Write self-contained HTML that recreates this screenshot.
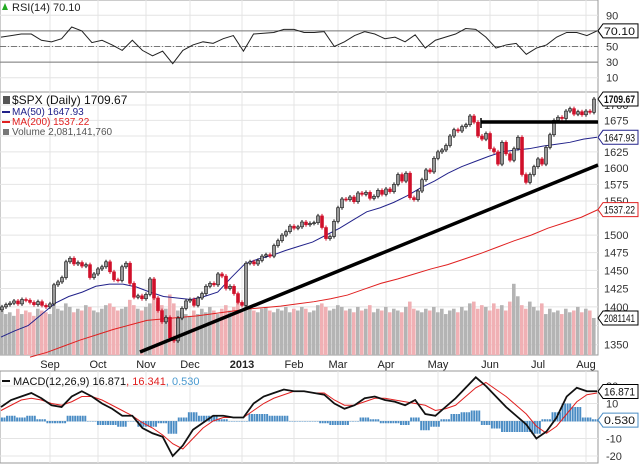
<!DOCTYPE html>
<html><head><meta charset="utf-8"><style>
body{margin:0;background:#fff;}
svg{display:block;font-family:"Liberation Sans",sans-serif;}
</style></head><body>
<svg id="c" width="640" height="464" viewBox="0 0 640 464" xmlns="http://www.w3.org/2000/svg"></svg>
<script>
const monthLabels=["Sep","Oct","Nov","Dec","2013","Feb","Mar","Apr","May","Jun","Jul","Aug"];
const monthBars=[12,24,36,47,60,73,84,96,109,122,134,146];
const priceTicks=[1350,1375,1400,1425,1450,1475,1500,1525,1550,1575,1600,1625,1650,1675,1700];
const closes=[1400,1403,1405,1408,1404,1410,1409,1406,1403,1407,1402,1400,1404,1430,1434,1440,1462,1467,1459,1461,1456,1458,1440,1445,1452,1455,1462,1448,1437,1436,1455,1460,1432,1413,1415,1411,1417,1438,1412,1395,1380,1386,1359,1355,1385,1398,1408,1410,1402,1412,1418,1428,1432,1430,1445,1442,1425,1428,1418,1406,1402,1460,1462,1459,1464,1470,1472,1470,1485,1492,1500,1505,1513,1510,1512,1519,1515,1517,1518,1528,1511,1495,1498,1520,1540,1553,1552,1556,1549,1562,1560,1563,1554,1557,1566,1560,1568,1564,1575,1590,1580,1592,1555,1552,1565,1582,1597,1594,1615,1625,1628,1635,1650,1660,1658,1665,1668,1682,1672,1650,1645,1654,1630,1625,1606,1640,1622,1612,1630,1648,1590,1578,1590,1602,1614,1606,1632,1652,1675,1680,1678,1690,1694,1685,1689,1684,1690,1688,1709.67];
const volumes=[2.5,2.3,2.4,2.2,2.6,2.3,2.5,2.4,2.2,2.6,2.5,2.4,2.3,3.0,2.6,2.5,2.9,2.7,2.4,2.6,2.5,2.8,2.7,2.5,2.4,2.6,2.8,2.9,2.7,2.5,2.6,2.7,3.1,2.8,2.6,2.5,2.7,2.9,3.2,3.0,2.8,2.6,3.4,2.9,2.5,2.4,2.3,2.2,2.5,2.3,2.6,2.4,2.7,2.5,2.3,2.6,2.8,2.5,2.7,3.0,2.4,2.8,2.6,2.5,2.4,2.6,2.7,2.5,2.4,2.6,2.5,2.7,2.4,2.6,2.5,2.7,2.6,2.4,2.5,2.8,2.9,2.7,2.5,2.6,2.8,2.7,2.5,2.6,2.4,2.7,2.5,2.6,2.8,2.4,2.6,2.5,2.7,2.4,2.6,2.5,2.4,2.7,3.0,2.6,2.5,2.4,2.6,2.5,2.7,2.4,2.6,2.3,2.5,2.6,2.4,2.7,2.5,2.9,3.0,2.6,2.8,2.7,2.5,2.9,2.6,2.8,2.5,3.0,4.0,3.3,2.8,2.6,3.0,2.7,2.5,2.9,2.3,2.6,2.4,2.5,2.3,2.6,2.4,2.5,2.7,2.4,2.6,2.5,2.08];
const ma50=[1360,1368,1375,1390,1405,1414,1420,1428,1431,1431,1427,1420,1414,1412,1410,1414,1420,1440,1459,1466,1471,1478,1484,1490,1500,1510,1522,1534,1540,1548,1558,1570,1580,1592,1602,1610,1618,1625,1628,1630,1634,1637,1640,1645,1647.93];
const ma200=[1334,1340,1348,1356,1363,1370,1376,1382,1384,1386,1388,1391,1394,1397,1399,1401,1404,1407,1411,1416,1424,1432,1438,1445,1452,1458,1466,1474,1483,1492,1500,1510,1518,1526,1537.22];
const rsi=[62,64,66,66,58,56,60,75,70,55,58,52,45,58,45,38,44,28,45,52,56,54,60,64,44,66,67,68,72,72,68,68,69,50,56,64,69,66,60,62,56,65,48,58,62,66,73,72,62,48,52,54,40,48,52,62,68,68,64,70];
const macd=[8,12,14,16,13,9,8,14,17,14,10,7,3,3,-4,-7,-9,-20,-14,-5,-1,3,3,2,2,10,14,16,18,17,17,16,15,10,7,9,13,14,12,11,9,12,4,3,8,13,19,25,20,14,8,3,-2,-10,-6,2,14,19,17,17];
const signal=[6,9,12,13,12,10,9,11,14,14,12,9,6,3,-1,-4,-8,-13,-16,-10,-4,0,2,2,2,6,10,13,15,17,17,16,16,12,9,9,11,13,13,12,11,10,9,6,7,9,14,19,22,18,14,9,4,-3,-7,-3,4,11,15,16];

const S=document.getElementById('c'),NS='http://www.w3.org/2000/svg';
const R=598;
function el(t,a,p){const e=document.createElementNS(NS,t);for(const k in a)e.setAttribute(k,a[k]);(p||S).appendChild(e);return e;}
const bx=i=>2+4*i;
const py=p=>168-1040*Math.log(p/1600);
const ry=v=>46.5-(v-50)*0.78;
const my=v=>421-v*1.75;
const vy=v=>355-v*17.8;
const sx=(i,n)=>i*(R-2)/(n-1)+1;

el('rect',{x:0,y:0,width:R,height:92,fill:'#fff',stroke:'#999'});
el('rect',{x:0,y:92,width:R,height:263,fill:'#fff',stroke:'#999'});
el('rect',{x:0,y:371,width:R,height:92,fill:'#fff',stroke:'#999'});
for(const v of [90,70,50,30,10]){el('line',{x1:0,x2:R,y1:ry(v),y2:ry(v),stroke:'#e4e4e4'});}
for(const p of priceTicks){el('line',{x1:0,x2:R,y1:py(p),y2:py(p),stroke:'#e4e4e4'});}
for(const v of [20,10,0,-10,-20]){el('line',{x1:0,x2:R,y1:my(v),y2:my(v),stroke:'#e4e4e4'});}
monthBars.forEach((b,i)=>{const x=bx(b);
 for(const [a,c] of [[0,92],[92,355],[371,463]]) el('line',{x1:x,x2:x,y1:a,y2:c,stroke:'#e4e4e4'});
 const t=el('text',{x:x,y:368,'font-size':11,'text-anchor':'middle',fill:'#222','font-weight':monthLabels[i]=='2013'?'bold':'normal'});
 t.textContent=monthLabels[i];
 
});
el('line',{x1:0,x2:R,y1:ry(70),y2:ry(70),stroke:'#777'});
el('line',{x1:0,x2:R,y1:ry(30),y2:ry(30),stroke:'#777'});
el('line',{x1:0,x2:R,y1:ry(50),y2:ry(50),stroke:'#777','stroke-dasharray':'6,2,1,2'});
const rl=el('polyline',{points:rsi.map((v,i)=>sx(i,rsi.length)+','+ry(v)).join(' '),fill:'none',stroke:'#222','stroke-width':1});

for(const v of [90,50,30,10]){const t=el('text',{x:606,y:ry(v)+4,'font-size':11,fill:'#333'});t.textContent=v;}
volumes.forEach((v,i)=>{const up=i==0||closes[i]>=closes[i-1];
 const r=el('rect',{x:bx(i)-2,y:vy(v),width:3.6,height:355-vy(v),fill:up?'#b4b4b4':'#f0b0b4'});
 
});
const m2=el('polyline',{points:ma200.map((v,i)=>(30+i*(R-30)/(ma200.length-1))+','+py(v)).join(' '),fill:'none',stroke:'#e02020','stroke-width':1});

const m5=el('polyline',{points:ma50.map((v,i)=>sx(i,ma50.length)+','+py(v)).join(' '),fill:'none',stroke:'#22228a','stroke-width':1});

closes.forEach((c,i)=>{const o=i?closes[i-1]:c-4;const up=c>=o;const x=bx(i);
 const hi=Math.min(py(Math.max(o,c)),py(Math.min(o,c)))-2,lo=Math.max(py(Math.max(o,c)),py(Math.min(o,c)))+2;
 const col=up?'#111':'#d0102a';
 const w=el('line',{x1:x,x2:x,y1:hi,y2:lo,stroke:col,'stroke-width':1});
 
 const top=Math.min(py(o),py(c)),h=Math.max(1,Math.abs(py(o)-py(c)));
 const b=el('rect',{x:x-1.5,y:top,width:3,height:h,fill:up?'#999':'#d0102a',stroke:col,'stroke-width':0.6});
 
});
el('line',{x1:140,y1:352,x2:R,y2:165,stroke:'#000','stroke-width':3.5});
el('line',{x1:481,y1:122,x2:R,y2:122,stroke:'#000','stroke-width':3.5});
el('line',{x1:481,y1:118,x2:481,y2:128,stroke:'#000','stroke-width':1.5});
for(const p of priceTicks){if(p==1650||p==1525||p==1375)continue;const t=el('text',{x:604,y:py(p)+4,'font-size':11,fill:'#333'});t.textContent=p;}
function tag(y,txt,col,bold,name){
 const g=el('g',{});
 el('polygon',{points:`${R},${y} ${R+5},${y-7} 638,${y-7} 638,${y+7} ${R+5},${y+7}`,fill:'#fff',stroke:col,'stroke-width':1},g);
 const t=el('text',{x:R+6,y:y+4,'font-size':11,fill:'#111','font-weight':bold?'bold':'normal',textLength:31,lengthAdjust:'spacingAndGlyphs'},g);t.textContent=txt;
}
tag(99,'1709.67','#000',true,'last-price-tag');
tag(py(1647.93),'1647.93','#22228a',false,'ma50-tag');
tag(py(1537.22),'1537.22','#e02020',false,'ma200-tag');
tag(318,'2081141','#000',false,'volume-tag');
tag(ry(70.1),'70.10','#000',false,'rsi-tag');
const bw=(R-2)/(macd.length-1);
macd.forEach((v,i)=>{const h=v-signal[i];for(let k=0;k<4;k++){const x=sx(i,macd.length)-bw/2+k*bw/4;
 const r=el('rect',{x:x,y:Math.min(my(0),my(h)),width:bw/4-0.6,height:Math.abs(my(h)-my(0))+0.5,fill:'#4a8cc4'});
 }});
const sl=el('polyline',{points:signal.map((v,i)=>sx(i,signal.length)+','+my(v)).join(' '),fill:'none',stroke:'#e02020','stroke-width':1});

const ml=el('polyline',{points:macd.map((v,i)=>sx(i,macd.length)+','+my(v)).join(' '),fill:'none',stroke:'#111','stroke-width':1.8});

for(const v of [20,10,-10,-20]){const t=el('text',{x:606,y:my(v)+4,'font-size':11,fill:'#333'});t.textContent=v;}
tag(my(16.871),'16.871','#000',false,'macd-tag');
tag(my(0.53),'0.530','#4a8cc4',false,'histogram-tag');
function txt(x,y,s,col,size,name){const t=el('text',{x:x,y:y,'font-size':size||11,fill:col||'#222'});t.textContent=s;return t;}
txt(12,11,'RSI(14) 70.10','#222',11,'rsi-legend');
el('path',{d:'M2,10 L5,3 L8,10 Z',fill:'#2a2'});
txt(12,104,'$SPX (Daily) 1709.67','#111',12,'price-legend');
el('rect',{x:3,y:96,width:7,height:8,fill:'#555'});
el('rect',{x:2,y:111,width:8,height:2,fill:'#22228a'});txt(12,115,'MA(50) 1647.93','#22228a',10,'ma50-legend');
el('rect',{x:2,y:121,width:8,height:2,fill:'#e02020'});txt(12,125,'MA(200) 1537.22','#e02020',10,'ma200-legend');
el('rect',{x:3,y:129,width:6,height:6,fill:'#777'});txt(12,135,'Volume 2,081,141,760','#555',10,'volume-legend');
el('rect',{x:2,y:380,width:8,height:2,fill:'#111'});
const mt=el('text',{x:13,y:385,'font-size':11,fill:'#111'});
mt.innerHTML='MACD(12,26,9) 16.871<tspan fill="#e02020">, 16.341</tspan><tspan fill="#4a9ad0">, 0.530</tspan>';
</script>
</body></html>
